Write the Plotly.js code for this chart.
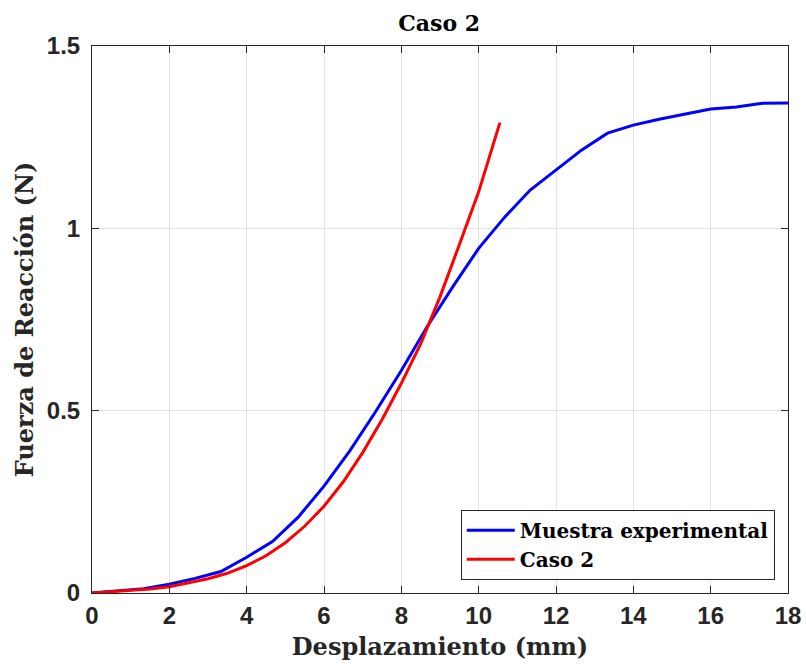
<!DOCTYPE html>
<html>
<head>
<meta charset="utf-8">
<script src="https://cdn.plot.ly/plotly-3.0.1.min.js"></script>
<style>html,body{margin:0;padding:0;background:#fff;}#chart{width:806px;height:669px;}</style>
</head>
<body>
<div id="chart"></div>
<script>
// Muestra experimental (desplazamiento mm, fuerza N)
const expX = [0, 0.667, 1.333, 2, 2.667, 3.333, 4, 4.667, 5.333, 6, 6.667, 7.333, 8, 8.667, 9.333, 10, 10.667, 11.333, 12, 12.667, 13.333, 14, 14.667, 15.333, 16, 16.667, 17.333, 18];
const expY = [0, 0.005, 0.012, 0.024, 0.040, 0.059, 0.098, 0.141, 0.208, 0.293, 0.390, 0.497, 0.610, 0.730, 0.840, 0.945, 1.030, 1.105, 1.160, 1.215, 1.261, 1.283, 1.299, 1.313, 1.327, 1.333, 1.343, 1.344];
// Caso 2 (modelo)
const casoX = [0, 0.5, 1, 1.5, 2, 2.5, 3, 3.5, 4, 4.5, 5, 5.5, 6, 6.5, 7, 7.5, 8, 8.5, 9, 9.5, 10, 10.55];
const casoY = [0, 0.003, 0.007, 0.011, 0.017, 0.027, 0.039, 0.054, 0.075, 0.102, 0.138, 0.183, 0.238, 0.305, 0.385, 0.475, 0.575, 0.683, 0.812, 0.955, 1.100, 1.290];
const xTicks = [0, 2, 4, 6, 8, 10, 12, 14, 16, 18];
const yTicks = [0, 0.5, 1, 1.5];
const yTickText = ['0', '0.5', '1', '1.5'];

const serif = 'DejaVu Serif, Liberation Serif, serif';
const sans = 'Liberation Sans, Arial, sans-serif';

const traces = [
  {x: expX, y: expY, type: 'scatter', mode: 'lines', name: 'Muestra experimental',
   line: {color: '#0000ff', width: 3}},
  {x: casoX, y: casoY, type: 'scatter', mode: 'lines', name: 'Caso 2',
   line: {color: '#ff0000', width: 3}}
];

const axisCommon = {
  showline: true, linecolor: '#262626', linewidth: 1, mirror: 'ticks',
  ticks: 'inside', ticklen: 7, tickwidth: 1, tickcolor: '#262626',
  showgrid: true, gridcolor: '#e3e3e3', gridwidth: 1, zeroline: false,
  tickfont: {family: sans, size: 24, color: '#262626', weight: 'bold'}
};

const layout = {
  width: 806, height: 669,
  margin: {l: 92, r: 18, t: 46, b: 76},
  paper_bgcolor: '#ffffff', plot_bgcolor: '#ffffff',
  title: {text: 'Caso 2', x: 0.545, xanchor: 'center', y: 0.965, yanchor: 'middle',
          font: {family: serif, size: 22, color: '#000', weight: 'bold'}},
  xaxis: Object.assign({}, axisCommon, {
    range: [0, 18], tickvals: xTicks, ticktext: xTicks.map(String),
    ticklabelstandoff: 1,
    title: {text: 'Desplazamiento (mm)', standoff: 10,
            font: {family: serif, size: 24, color: '#262626', weight: 'bold'}}
  }),
  yaxis: Object.assign({}, axisCommon, {
    range: [0, 1.5], tickvals: yTicks, ticktext: yTickText,
    ticklabelstandoff: 6,
    title: {text: 'Fuerza de Reacción (N)', standoff: 6,
            font: {family: serif, size: 24, color: '#262626', weight: 'bold'}}
  }),
  legend: {x: 0.981, xanchor: 'right', y: 0.024, yanchor: 'bottom',
           bgcolor: '#ffffff', bordercolor: '#262626', borderwidth: 1,
           font: {family: serif, size: 20, color: '#000', weight: 'bold'},
           itemwidth: 48, tracegroupgap: 0},
  showlegend: true
};

Plotly.newPlot('chart', traces, layout, {displayModeBar: false, staticPlot: true});
</script>
</body>
</html>
